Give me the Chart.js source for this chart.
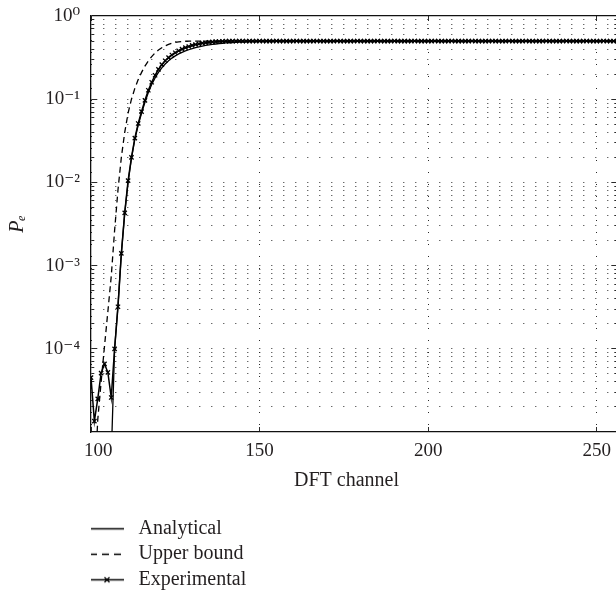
<!DOCTYPE html>
<html><head><meta charset="utf-8">
<script src="https://cdn.jsdelivr.net/npm/chart.js@4.4.1/dist/chart.umd.min.js"></script>
<style>
html,body{margin:0;padding:0;background:#fff;overflow:hidden;width:616px;height:594px}
canvas{display:block}
</style></head>
<body>
<canvas id="c" width="625" height="594" style="width:625px;height:594px"></canvas>
<script>
// ---------- data ----------
const seriesNames = ['Analytical', 'Upper bound', 'Experimental'];
const firstChannel = 100; // experimental values are one per DFT channel from here on

const experimental = [
  4.5e-5, 1.35e-5, 2.5e-5, 5.1e-5, 6.6e-5, 5.2e-5, 2.6e-5, 1.0e-4, 3.2e-4, 1.4e-3,      // 100-109
  4.3e-3, 1.05e-2, 2.0e-2, 3.4e-2, 5.1e-2, 7.1e-2, 9.7e-2, 0.128, 0.16, 0.194,          // 110-119
  0.228, 0.26, 0.29, 0.316, 0.34, 0.362, 0.382, 0.40, 0.416, 0.43,                     // 120-129
  0.443, 0.454, 0.463, 0.471, 0.478, 0.483, 0.488, 0.491, 0.494, 0.496,                // 130-139
  0.498,                                                                                // 140
  0.499, 0.5, 0.5, 0.501, 0.499, 0.5, 0.5, 0.5, 0.499, 0.501,
  0.5, 0.5, 0.499, 0.5, 0.501, 0.5, 0.5, 0.499, 0.5, 0.5,
  0.501, 0.5, 0.5, 0.499, 0.5, 0.5, 0.501, 0.5, 0.499, 0.5,
  0.5, 0.5, 0.501, 0.5, 0.499, 0.5, 0.5, 0.5, 0.501, 0.5,
  0.499, 0.5, 0.5, 0.5, 0.501, 0.5, 0.499, 0.5, 0.5, 0.501,
  0.5, 0.5, 0.499, 0.5, 0.5, 0.501, 0.5, 0.499, 0.5, 0.5,
  0.5, 0.501, 0.5, 0.499, 0.5, 0.5, 0.501, 0.5, 0.5, 0.499,
  0.5, 0.5, 0.501, 0.5, 0.499, 0.5, 0.5, 0.5, 0.501, 0.5,
  0.499, 0.5, 0.5, 0.501, 0.5, 0.5, 0.499, 0.5, 0.501, 0.5,
  0.5, 0.499, 0.5, 0.5, 0.501, 0.5, 0.5, 0.499, 0.5, 0.5,
  0.501, 0.5, 0.5, 0.499, 0.5, 0.5, 0.501, 0.5, 0.499, 0.5,
  0.5, 0.501, 0.5, 0.5, 0.499, 0.5                                                      // 251-256
];

const analyticalChannels = [
  100, 101, 102, 103, 104, 105, 106, 107, 108, 109,
  110, 111, 112, 113, 114, 115, 116, 117, 118, 119,
  120, 121, 122, 123, 124, 125, 126, 127, 128, 129,
  130, 131, 132, 133, 134, 135, 136, 137, 138, 139,
  140, 141, 142, 143, 144, 145, 146, 147, 148, 149,
  150, 152, 155, 160, 170, 256
];
const analytical = [
  1e-9, 1e-9, 1e-9, 1e-9, 1e-8, 1e-7, 5e-6, 1.0e-4, 3.3e-4, 1.4e-3,
  4.3e-3, 1.0e-2, 1.95e-2, 3.3e-2, 4.9e-2, 6.8e-2, 9.2e-2, 0.12, 0.15, 0.18,
  0.21, 0.238, 0.265, 0.29, 0.312, 0.332, 0.35, 0.366, 0.38, 0.393,
  0.405, 0.416, 0.426, 0.435, 0.443, 0.45, 0.456, 0.461, 0.466, 0.47,
  0.474, 0.477, 0.48, 0.483, 0.485, 0.487, 0.489, 0.491, 0.492, 0.493,
  0.494, 0.496, 0.498, 0.499, 0.5, 0.5
];

const upperChannels = [
  100, 101, 102, 103, 104, 105, 106, 107, 108, 109,
  110, 111, 112, 113, 114, 115, 116, 117, 118, 119,
  120, 121, 122, 123, 124, 125, 126, 127, 128, 129,
  130, 256
];
const upperBound = [
  1e-8, 2e-6, 1.4e-5, 4.0e-5, 1.07e-4, 2.8e-4, 7.4e-4, 2.65e-3, 8.1e-3, 2.0e-2,
  4.0e-2, 6.8e-2, 0.1, 0.135, 0.172, 0.21, 0.25, 0.288, 0.325, 0.36,
  0.39, 0.415, 0.437, 0.455, 0.47, 0.481, 0.489, 0.494, 0.497, 0.499,
  0.5, 0.5
];

const xTickValues = [100, 150, 200, 250];
const xTickLabels = ['\u2007\u2008100', '150', '200', '250'];
const yDecades = [-5, -4, -3, -2, -1, 0];
const yMultipliers = [1, 2, 3, 4, 5, 6, 7, 8, 9];
const yMajorLabels = ['10\u207B\u2075', '10\u207B\u2074', '10\u207B\u00B3', '10\u207B\u00B2', '10\u207B\u00B9', '10\u2070'];
const xTitle = 'DFT channel\u2007\u2008';
const yTitle = 'P\u2091';

// ---------- helpers ----------
const FONT = "'Liberation Serif', 'DejaVu Serif', serif";
const TEXT = '#231f20';

const yTickValues = [];
yDecades.forEach(d => yMultipliers.forEach(m => {
  const v = m * Math.pow(10, d);
  if (v > 1.5e-5 && v < 1.0001) yTickValues.push(v);
}));
function decadeIndex(v) {
  const e = Math.log10(v);
  const r = Math.round(e);
  return Math.abs(e - r) < 1e-6 ? yDecades.indexOf(r) : -1;
}
// dotted grid line with inward tick marks at both ends
function dotted(len, t) {
  const step = 12;
  const arr = [t, step - t];
  let pos = step;
  while (pos + step < len - t) { arr.push(1, step - 1); pos += step; }
  arr.push(1, Math.max(len - t - pos - 1, 0.01), t, 2000);
  return arr;
}
function legendIcon(kind) {
  const c = document.createElement('canvas');
  c.width = 45; c.height = 12;
  const g = c.getContext('2d');
  g.strokeStyle = '#000';
  g.lineWidth = 1.4;
  if (kind === 'dash') g.setLineDash([7, 5]);
  g.beginPath(); g.moveTo(0, 6.5); g.lineTo(34, 6.5); g.stroke();
  if (kind === 'cross') {
    g.setLineDash([]); g.lineWidth = 1.3;
    g.beginPath();
    g.moveTo(14.5, 4); g.lineTo(19.5, 9);
    g.moveTo(19.5, 4); g.lineTo(14.5, 9);
    g.stroke();
  }
  return c;
}
const legendIcons = [legendIcon('solid'), legendIcon('dash'), legendIcon('cross')];

const expPoints = experimental.map((v, i) => ({x: firstChannel + i, y: v}));
const anaPoints = analytical.map((v, i) => ({x: analyticalChannels[i], y: v}));
const upPoints = upperBound.map((v, i) => ({x: upperChannels[i], y: v}));

new Chart(document.getElementById('c'), {
  type: 'line',
  data: {
    datasets: [
      { label: seriesNames[0], data: anaPoints, borderColor: '#000', borderWidth: 1.3,
        pointRadius: 0, fill: false, tension: 0, order: 2 },
      { label: seriesNames[1], data: upPoints, borderColor: '#000', borderWidth: 1.3,
        borderDash: [6, 4], pointRadius: 0, fill: false, tension: 0, order: 3 },
      { label: seriesNames[2], data: expPoints, borderColor: '#000', borderWidth: 1.5,
        pointStyle: 'crossRot', pointRadius: 3, pointBorderWidth: 1.3, pointBorderColor: '#000',
        pointBackgroundColor: '#000', fill: false, tension: 0, order: 1 }
    ]
  },
  options: {
    responsive: false,
    animation: false,
    devicePixelRatio: 1,
    layout: { padding: { left: 0, right: 8, top: 16, bottom: -5.3 } },
    plugins: {
      tooltip: { enabled: false },
      legend: {
        position: 'bottom',
        align: 'start',
        fullSize: false,
        labels: {
          usePointStyle: true,
          pointStyleWidth: 32,
          padding: 5.5,
          color: TEXT,
          font: { family: FONT, size: 20 },
          generateLabels: (chart) => chart.data.datasets.map((ds, i) => ({
            text: ds.label + '\u2003'.repeat(14),
            pointStyle: legendIcons[i],
            fillStyle: '#000', strokeStyle: '#000', lineWidth: 0,
            hidden: false, datasetIndex: i, fontColor: TEXT
          }))
        }
      }
    },
    scales: {
      x: {
        type: 'linear',
        min: 100, max: 256,
        afterBuildTicks: (s) => { s.ticks = xTickValues.map(v => ({value: v})); },
        afterFit: (s) => { s.height = 80.8; },
        ticks: {
          autoSkip: false, maxRotation: 0, padding: 8, color: TEXT,
          font: { family: FONT, size: 19 },
          callback: (v) => { const i = xTickValues.indexOf(v); return i >= 0 ? xTickLabels[i] : ''; }
        },
        grid: {
          drawTicks: false, color: '#2a2a2a', lineWidth: 1
        },
        border: {
          display: true, color: '#111', width: 1.3,
          dash: (c) => { const a = c.chart.chartArea; if (!a) return []; return dotted(a.bottom - a.top, 5); }
        },
        title: {
          display: true, text: xTitle, color: TEXT,
          font: { family: FONT, size: 20 }, padding: { top: 4, bottom: 19.8 }
        }
      },
      y: {
        type: 'logarithmic',
        min: 1e-5, max: 1,
        afterBuildTicks: (s) => { s.ticks = yTickValues.map(v => ({value: v})); },
        afterFit: (s) => { s.width = 91; s.paddingTop = 0; s.paddingBottom = 0; },
        ticks: {
          autoSkip: false, padding: 11, color: TEXT,
          font: { family: FONT, size: 19 },
          callback: (v) => { const i = decadeIndex(v); return i >= 0 ? yMajorLabels[i] : ''; }
        },
        grid: {
          drawTicks: false,
          color: (c) => (c.tick && c.tick.value > 0.999) ? '#111' : '#2a2a2a',
          lineWidth: (c) => (c.tick && c.tick.value > 0.999) ? 1.3 : 1
        },
        border: {
          display: true, color: '#111', width: 1.3,
          dash: (c) => {
            const a = c.chart.chartArea;
            if (!a || !c.tick) return [];
            if (c.tick.value > 0.999) return [];
            return dotted(a.right - a.left, decadeIndex(c.tick.value) >= 0 ? 6 : 3);
          }
        },
        title: {
          display: true, text: yTitle, color: TEXT,
          font: { family: FONT, size: 20, style: 'italic' }, padding: { top: 6, bottom: 0 }
        }
      }
    }
  }
});
</script>
</body></html>
